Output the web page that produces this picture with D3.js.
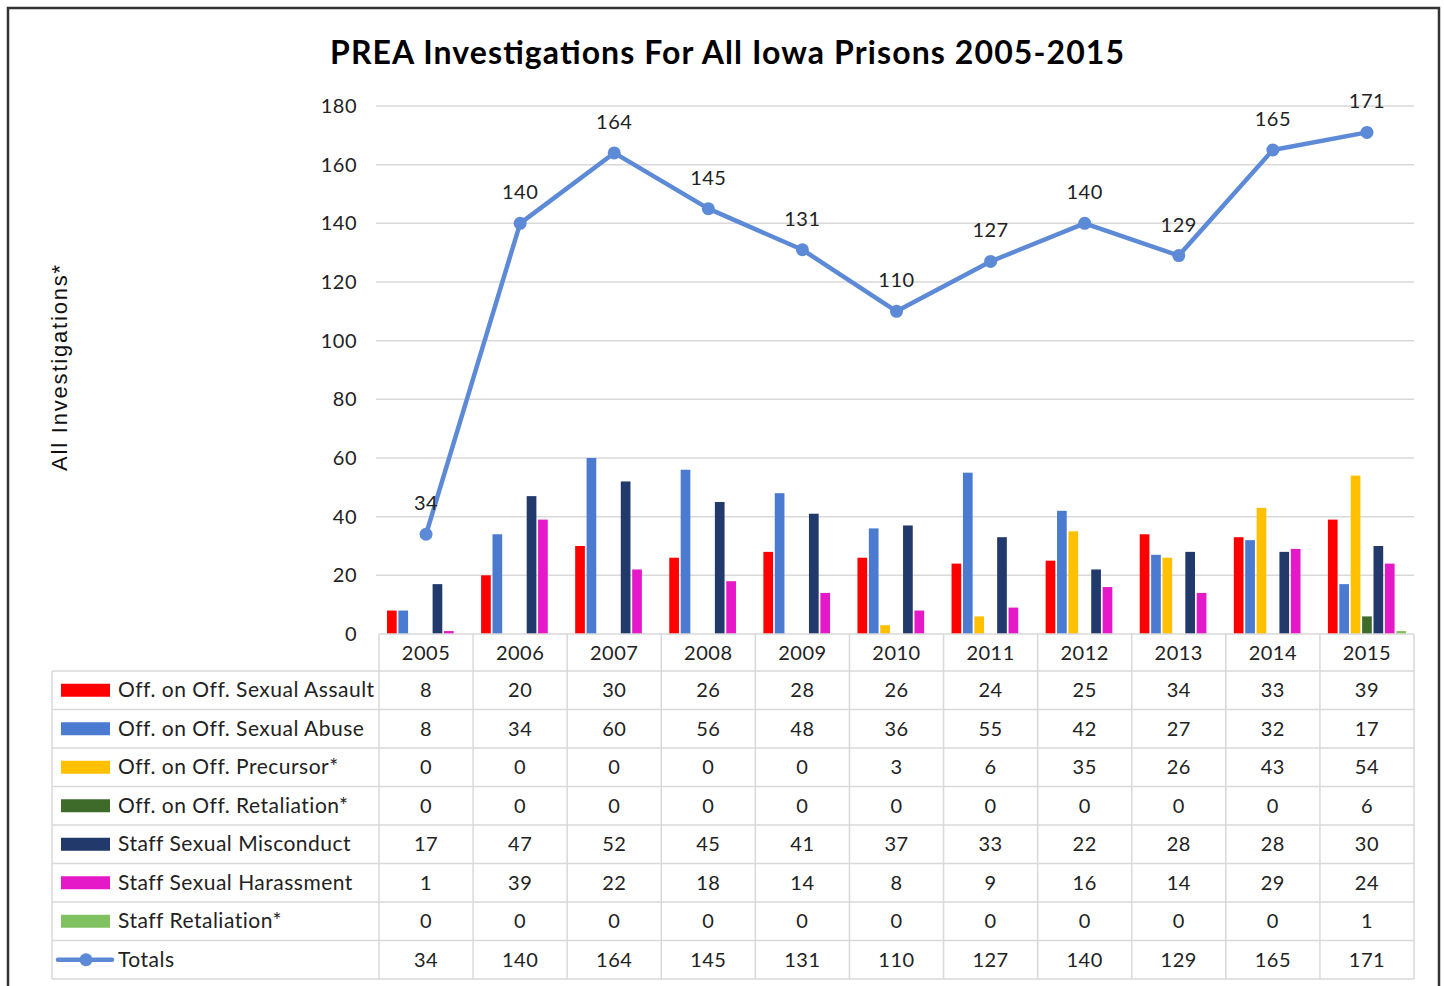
<!DOCTYPE html>
<html>
<head>
<meta charset="utf-8">
<script src="https://cdn.jsdelivr.net/npm/d3@7"></script>
<style>
  body { margin: 0; background: #fff; }
  svg { display: block; }
</style>
</head>
<body>
<div id="chart"></div>
<script>
// data
var years = ["2005", "2006", "2007", "2008", "2009", "2010", "2011", "2012", "2013", "2014", "2015"];
var seriesNames = [
  "Off. on Off. Sexual Assault",
  "Off. on Off. Sexual Abuse",
  "Off. on Off. Precursor*",
  "Off. on Off. Retaliation*",
  "Staff Sexual Misconduct",
  "Staff Sexual Harassment",
  "Staff Retaliation*"
];
var assault     = [8, 20, 30, 26, 28, 26, 24, 25, 34, 33, 39];
var abuse       = [8, 34, 60, 56, 48, 36, 55, 42, 27, 32, 17];
var precursor   = [0, 0, 0, 0, 0, 3, 6, 35, 26, 43, 54];
var retaliation = [0, 0, 0, 0, 0, 0, 0, 0, 0, 0, 6];
var misconduct  = [17, 47, 52, 45, 41, 37, 33, 22, 28, 28, 30];
var harassment  = [1, 39, 22, 18, 14, 8, 9, 16, 14, 29, 24];
var staffRetal  = [0, 0, 0, 0, 0, 0, 0, 0, 0, 0, 1];
var totals      = [34, 140, 164, 145, 131, 110, 127, 140, 129, 165, 171];
var yTicks = [0, 20, 40, 60, 80, 100, 120, 140, 160, 180];

var colors = ["#ff0000", "#4a7bd0", "#ffc000", "#3f6b2a", "#22396b", "#e619c8", "#80c262"];
var lineColor = "#5d8ad6";
var allSeries = [assault, abuse, precursor, retaliation, misconduct, harassment, staffRetal];

var W = 1444, H = 986;
var font = "Lato, 'Open Sans', sans-serif";

var svg = d3.select("#chart").append("svg")
    .attr("width", W)
    .attr("height", H);

// outer frame
svg.append("rect")
    .attr("x", 8).attr("y", 8)
    .attr("width", 1431).attr("height", 990)
    .attr("fill", "#fff")
    .attr("stroke", "#333")
    .attr("stroke-width", 2.5);

// title
svg.append("text")
    .attr("x", 727).attr("y", 64)
    .attr("text-anchor", "middle")
    .attr("font-family", font)
    .attr("font-weight", "bold")
    .attr("font-size", 32)
    .attr("fill", "#000")
    .attr("textLength", 794)
    .attr("lengthAdjust", "spacing")
    .text("PREA Investigations For All Iowa Prisons 2005-2015");

var plotLeft = 379, plotRight = 1414;
var x = d3.scaleBand()
    .domain(years)
    .range([plotLeft, plotRight]);

var y = d3.scaleLinear()
    .domain([0, 180])
    .range([634, 106]);

var xs = d3.scaleBand()
    .domain(d3.range(seriesNames.length))
    .range([8, x.bandwidth() - 8])
    .paddingInner(0.15);

// gridlines
svg.append("g")
  .selectAll("line")
  .data(yTicks.slice(1))
  .enter().append("line")
    .attr("x1", plotLeft - 3).attr("x2", plotRight)
    .attr("y1", function(d) { return y(d); })
    .attr("y2", function(d) { return y(d); })
    .attr("stroke", "#d9d9d9")
    .attr("stroke-width", 1.5);

// y axis labels
var yAxis = svg.append("g")
    .attr("transform", "translate(" + (plotLeft - 10) + ",0)")
    .call(d3.axisLeft(y).tickValues(yTicks).tickSize(0).tickPadding(12));
yAxis.select(".domain").remove();
yAxis.selectAll("text")
    .attr("font-family", font)
    .attr("font-size", 20)
    .attr("letter-spacing", 0.5)
    .attr("fill", "#222");

// y axis title
svg.append("text")
    .attr("transform", "translate(67,367) rotate(-90)")
    .attr("text-anchor", "middle")
    .attr("font-family", "'Liberation Sans', Arial, sans-serif")
    .attr("font-size", 22)
    .attr("letter-spacing", 1.8)
    .attr("fill", "#111")
    .text("All Investigations*");

// bars
svg.append("g")
  .selectAll("g")
  .data(allSeries)
  .enter().append("g")
    .attr("fill", function(d, i) { return colors[i]; })
  .selectAll("rect")
  .data(function(d, i) { return d.map(function(v, j) { return {s: i, year: years[j], v: v}; }); })
  .enter().append("rect")
    .attr("x", function(d) { return x(d.year) + xs(d.s); })
    .attr("width", xs.bandwidth())
    .attr("y", function(d) { return y(d.v); })
    .attr("height", function(d) { return y(0) - y(d.v); });

// totals line
var line = d3.line()
    .x(function(d, i) { return x(years[i]) + x.bandwidth() / 2; })
    .y(function(d) { return y(d); });

svg.append("path")
    .datum(totals)
    .attr("d", line)
    .attr("fill", "none")
    .attr("stroke", lineColor)
    .attr("stroke-width", 4.5)
    .attr("stroke-linejoin", "round");

svg.append("g")
  .selectAll("circle")
  .data(totals)
  .enter().append("circle")
    .attr("cx", function(d, i) { return x(years[i]) + x.bandwidth() / 2; })
    .attr("cy", function(d) { return y(d); })
    .attr("r", 6.5)
    .attr("fill", lineColor);

svg.append("g")
  .selectAll("text")
  .data(totals)
  .enter().append("text")
    .attr("x", function(d, i) { return x(years[i]) + x.bandwidth() / 2; })
    .attr("y", function(d) { return y(d) - 24; })
    .attr("text-anchor", "middle")
    .attr("font-family", font)
    .attr("font-size", 20)
    .attr("letter-spacing", 0.5)
    .attr("fill", "#222")
    .text(function(d) { return d; });

// data table
var tableLeft = 52;
var headTop = 634, headBottom = 671, rowH = 38.5;
var rows = seriesNames.concat(["Totals"]);
var rowVals = allSeries.concat([totals]);
var tableBottom = headBottom + rows.length * rowH;
var grid = svg.append("g")
    .attr("stroke", "#d9d9d9")
    .attr("stroke-width", 1.5);

// horizontal rules
grid.selectAll("line.h")
  .data(d3.range(rows.length + 1))
  .enter().append("line")
    .attr("x1", tableLeft).attr("x2", plotRight)
    .attr("y1", function(i) { return headBottom + i * rowH; })
    .attr("y2", function(i) { return headBottom + i * rowH; });

// vertical rules
grid.append("line")
    .attr("x1", tableLeft).attr("x2", tableLeft)
    .attr("y1", headBottom).attr("y2", tableBottom);
grid.selectAll("line.v")
  .data(years.concat(["end"]))
  .enter().append("line")
    .attr("x1", function(d) { return d === "end" ? plotRight : x(d); })
    .attr("x2", function(d) { return d === "end" ? plotRight : x(d); })
    .attr("y1", headTop).attr("y2", tableBottom);

// axis line
svg.append("line")
    .attr("x1", plotLeft).attr("x2", plotRight)
    .attr("y1", y(0)).attr("y2", y(0))
    .attr("stroke", "#d9d9d9")
    .attr("stroke-width", 1.5);

// year headers
svg.append("g")
  .selectAll("text")
  .data(years)
  .enter().append("text")
    .attr("x", function(d) { return x(d) + x.bandwidth() / 2; })
    .attr("y", (headTop + headBottom) / 2 + 7)
    .attr("text-anchor", "middle")
    .attr("font-family", font)
    .attr("font-size", 20)
    .attr("letter-spacing", 0.5)
    .attr("fill", "#222")
    .text(function(d) { return d; });

// row legend + values
var rowG = svg.append("g")
  .selectAll("g")
  .data(rows)
  .enter().append("g")
    .attr("transform", function(d, i) { return "translate(0," + (headBottom + i * rowH + rowH / 2) + ")"; });

rowG.filter(function(d, i) { return i < seriesNames.length; })
  .append("rect")
    .attr("x", 61).attr("y", -6.5)
    .attr("width", 49).attr("height", 13)
    .attr("fill", function(d, i) { return colors[i]; });

var tot = rowG.filter(function(d) { return d === "Totals"; });
tot.append("line")
    .attr("x1", 58).attr("x2", 112)
    .attr("y1", 0).attr("y2", 0)
    .attr("stroke", lineColor)
    .attr("stroke-width", 4.5)
    .attr("stroke-linecap", "round");
tot.append("circle")
    .attr("cx", 86).attr("cy", 0).attr("r", 6.5)
    .attr("fill", lineColor);

rowG.append("text")
    .attr("x", 118).attr("y", 7)
    .attr("font-family", font)
    .attr("font-size", 21)
    .attr("letter-spacing", 0.5)
    .attr("fill", "#222")
    .text(function(d) { return d; });

rowG.each(function(d, i) {
  d3.select(this).selectAll("text.v")
    .data(rowVals[i])
    .enter().append("text")
      .attr("x", function(v, j) { return x(years[j]) + x.bandwidth() / 2; })
      .attr("y", 7)
      .attr("text-anchor", "middle")
      .attr("font-family", font)
      .attr("font-size", 20)
      .attr("letter-spacing", 0.5)
      .attr("fill", "#222")
      .text(function(v) { return v; });
});
</script>
</body>
</html>
